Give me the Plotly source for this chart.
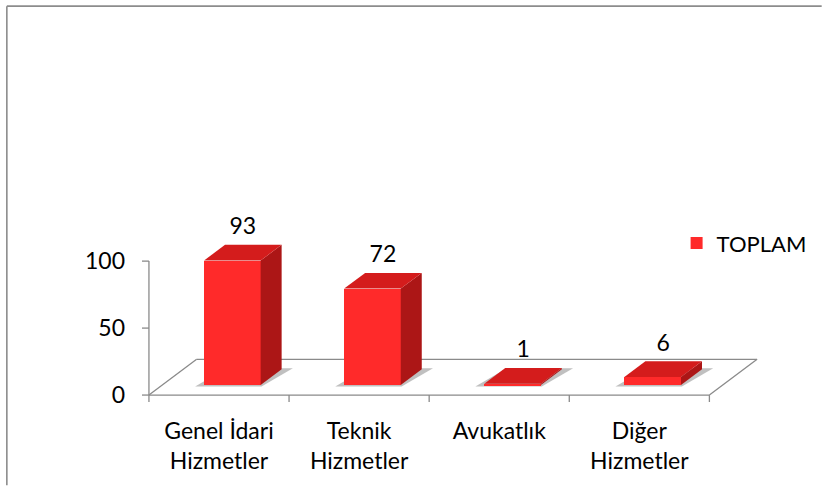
import plotly.graph_objects as go

# ---------------- data ----------------
categories = ["Genel İdari<br>Hizmetler", "Teknik<br>Hizmetler", "Avukatlık", "Diğer<br>Hizmetler"]
values = [93, 72, 1, 6]
series_name = "TOPLAM"
y_ticks = [0, 50, 100]

# ---------------- geometry / style ----------------
W, H = 824, 486
X0_PX, X_STEP = 219.5, 141.0   # pixel of first category centre on front edge, px per category
Y0_PX, Y_STEP = 397.0, 1.35    # pixel of value 0 on front edge, px per value unit
ML, MR, MT, MB = 140, 49, 150, 81
PW, PH = W - ML - MR, H - MT - MB

xr = [(ML - X0_PX) / X_STEP, (W - MR - X0_PX) / X_STEP]
yr = [(Y0_PX - (H - MB)) / Y_STEP, (Y0_PX - MT) / Y_STEP]

DX = 48 / X_STEP      # floor depth in x units
DV = 36 / Y_STEP      # floor depth in y units
HW = 0.202            # half bar width
D0, D1 = 0.28, 0.72   # bar depth span (fraction of floor depth)
LABEL_PAD = 5 / Y_STEP

FONT = "Lato"
TXT = 23
LINE = "#8a8a8a"
FRONT = "#FF2A2A"
TOP = "#D41C1C"
SIDE = "#AC1616"
SHADOW = "rgba(140,140,140,0.55)"


def P(c, v, d):
    return c + DX * d, v + DV * d


def poly(points):
    xs = [p[0] for p in points] + [points[0][0]]
    ys = [p[1] for p in points] + [points[0][1]]
    return xs, ys


def path(points):
    return "M" + "L".join(f"{x:.5f},{y:.5f}" for x, y in points) + "Z"


fig = go.Figure()
idx = list(range(len(categories)))
n = len(categories)
shapes = []

# shadows on the floor (below everything)
for i in idx:
    pts = [P(i - HW - 0.05, 0, 0.24), P(i + HW + 0.02, 0, 0.24),
           P(i + HW + 0.07, 0, 0.75), P(i - HW, 0, 0.75)]
    shapes.append(dict(type="path", xref="x", yref="y", path=path(pts),
                       fillcolor=SHADOW, line=dict(width=0), layer="below"))

# front faces (the bars)
fig.add_trace(go.Bar(
    x=[i + DX * D0 for i in idx], y=values, base=DV * D0, width=2 * HW,
    marker=dict(color=FRONT, line=dict(width=0)),
    name=series_name, showlegend=True, cliponaxis=False,
))

# side and top faces
for i, v in zip(idx, values):
    xs, ys = poly([P(i + HW, 0, D0), P(i + HW, 0, D1), P(i + HW, v, D1), P(i + HW, v, D0)])
    fig.add_trace(go.Scatter(x=xs, y=ys, mode="lines", fill="toself", fillcolor=SIDE,
                             line=dict(width=0), hoverinfo="skip", showlegend=False))
    xs, ys = poly([P(i - HW, v, D0), P(i + HW, v, D0), P(i + HW, v, D1), P(i - HW, v, D1)])
    fig.add_trace(go.Scatter(x=xs, y=ys, mode="lines", fill="toself", fillcolor=TOP,
                             line=dict(width=0), hoverinfo="skip", showlegend=False))

# data labels
fig.add_trace(go.Scatter(
    x=[i + DX * (D0 + D1) / 2 for i in idx], y=[v + DV * D1 + LABEL_PAD for v in values],
    mode="text", text=[str(v) for v in values], textposition="top center",
    textfont=dict(family=FONT, size=TXT, color="black"),
    hoverinfo="skip", showlegend=False, cliponaxis=False,
))


# floor, axis line and tick marks (drawn below the traces)
def seg(a, b):
    shapes.append(dict(type="line", xref="x", yref="y", x0=a[0], y0=a[1], x1=b[0], y1=b[1],
                       line=dict(color=LINE, width=1.3), layer="below"))


L, R = -0.5, n - 0.5
seg((L, 0), (R, 0))
seg((R, 0), P(R, 0, 1))
seg(P(L, 0, 1), P(R, 0, 1))
seg((L, 0), P(L, 0, 1))
seg((L, 0), (L, max(y_ticks)))
for t in y_ticks:
    seg((L - 7 / X_STEP, t), (L, t))
for k in range(n + 1):
    b = L + k
    seg((b, 0), (b, -7 / Y_STEP))


# chart-area border (top and left edges visible)
def px(xp):
    return (xp - ML) / PW


def py(yp):
    return (H - MB - yp) / PH


shapes.append(dict(type="line", xref="paper", yref="paper", x0=px(6), y0=py(H + 2), x1=px(6), y1=py(5),
                   line=dict(color="#8c8c8c", width=1.6)))
shapes.append(dict(type="line", xref="paper", yref="paper", x0=px(6), y0=py(5), x1=px(W + 2), y1=py(5),
                   line=dict(color="#8c8c8c", width=1.6)))

fig.update_layout(
    width=W, height=H,
    margin=dict(l=ML, r=MR, t=MT, b=MB, pad=0),
    paper_bgcolor="white", plot_bgcolor="white",
    font=dict(family=FONT, size=TXT, color="black"),
    shapes=shapes,
    showlegend=True,
    legend=dict(x=px(680), y=py(244), xanchor="left", yanchor="middle",
                font=dict(family=FONT, size=TXT - 1, color="black"), bgcolor="rgba(0,0,0,0)"),
    xaxis=dict(range=xr, tickvals=idx, ticktext=categories, ticks="", showline=False,
               showgrid=False, zeroline=False, ticklabelstandoff=12,
               tickfont=dict(family=FONT, size=TXT, color="black"), fixedrange=True),
    yaxis=dict(range=yr, tickvals=y_ticks, ticks="", showline=False, showgrid=False,
               zeroline=False, ticklabelstandoff=14,
               tickfont=dict(family=FONT, size=TXT, color="black"), fixedrange=True),
    bargap=0,
)

fig.write_html("out.html", config={"displayModeBar": False},
               post_script="document.body.style.margin='0';")
